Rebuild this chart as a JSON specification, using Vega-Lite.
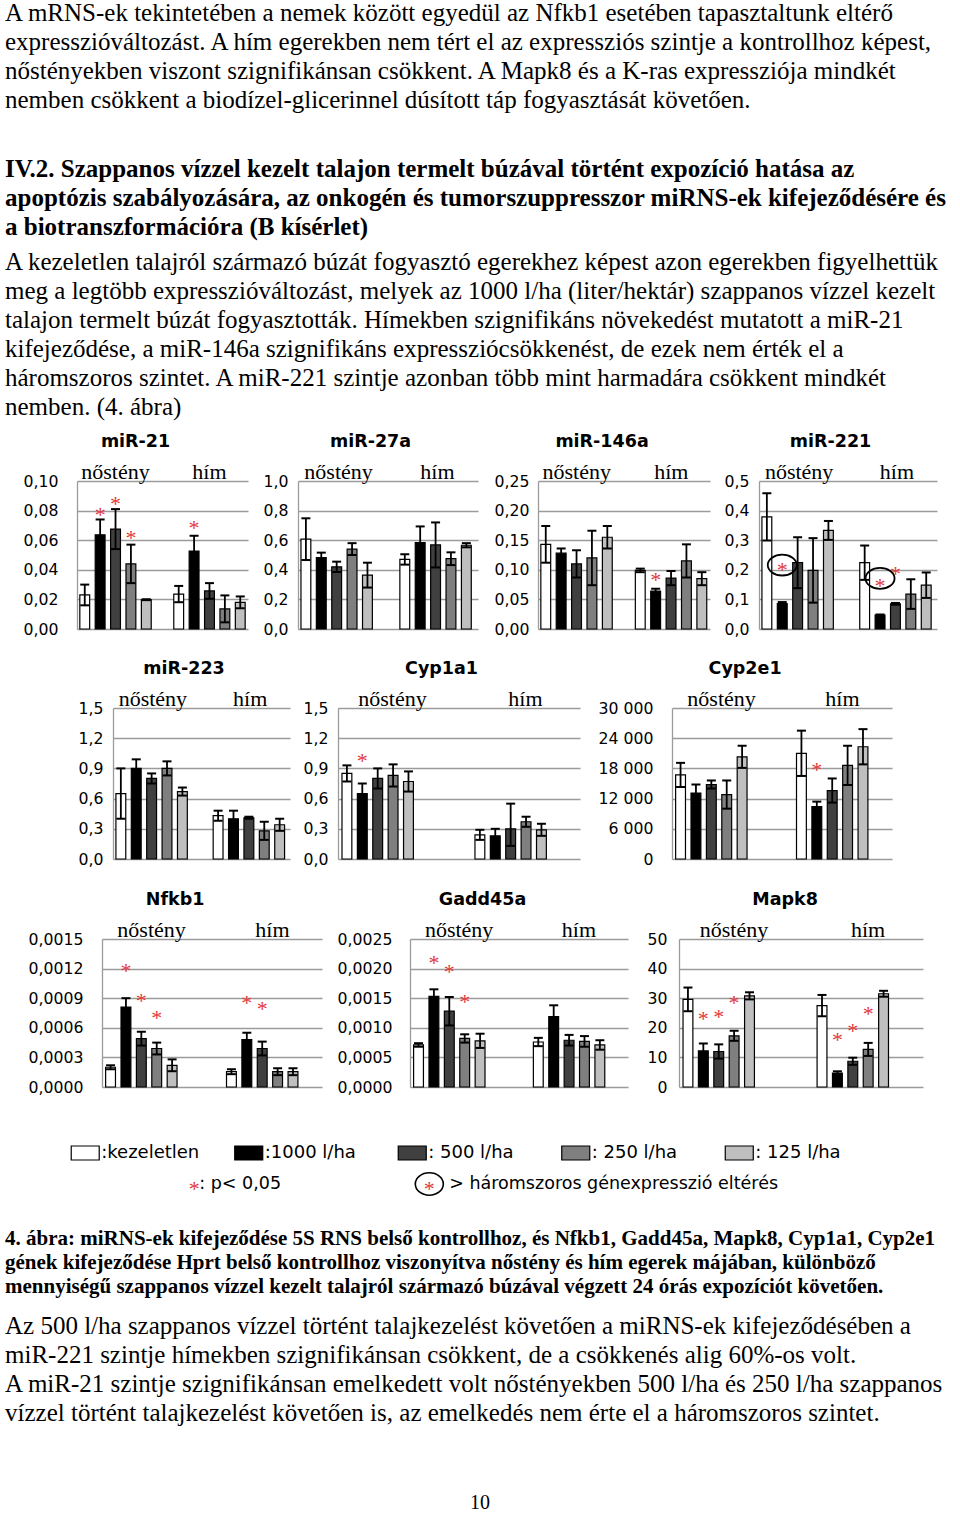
{
"$schema": "https://vega.github.io/schema/vega-lite/v6.json",
"padding": {"left": 5, "top": 1, "right": 5, "bottom": 0},
"spacing": 0,
"config": {
 "view": {"stroke": null},
 "locale": {"number": {"decimal": ",", "thousands": " ", "grouping": [3], "currency": ["", ""]}},
 "axisX": {"domain": false, "ticks": false, "grid": false, "labelFont": "Liberation Serif", "labelFontSize": 22, "labelColor": "black", "labelPadding": -2, "labelAngle": 0, "labelOverlap": false},
 "axisY": {"domain": true, "domainColor": "#9b9b9b", "domainWidth": 1.3, "grid": true, "gridColor": "#9b9b9b", "gridWidth": 1.3, "ticks": false, "labelFont": "DejaVu Sans", "labelFontSize": 15.7, "labelColor": "black", "labelOverlap": false, "tickCount": 20},
 "title": {"font": "DejaVu Sans", "fontSize": 17.5, "fontWeight": "bold", "color": "black", "baseline": "bottom", "offset": 10, "anchor": "middle", "frame": "bounds"}
},
"datasets": {
 "bars": [
  {"g":"miR-21","s":"nőstény","t":"kezeletlen","v":0.023,"lo":0.016,"hi":0.030},
  {"g":"miR-21","s":"nőstény","t":"1000 l/ha","v":0.0636,"lo":0.0532,"hi":0.074},
  {"g":"miR-21","s":"nőstény","t":"500 l/ha","v":0.0675,"lo":0.054,"hi":0.081},
  {"g":"miR-21","s":"nőstény","t":"250 l/ha","v":0.044,"lo":0.031,"hi":0.057},
  {"g":"miR-21","s":"nőstény","t":"125 l/ha","v":0.0198,"lo":0.0195,"hi":0.0201},
  {"g":"miR-21","s":"hím","t":"kezeletlen","v":0.0236,"lo":0.0181,"hi":0.0291},
  {"g":"miR-21","s":"hím","t":"1000 l/ha","v":0.0527,"lo":0.0424,"hi":0.063},
  {"g":"miR-21","s":"hím","t":"500 l/ha","v":0.0257,"lo":0.0204,"hi":0.031},
  {"g":"miR-21","s":"hím","t":"250 l/ha","v":0.0136,"lo":0.0045,"hi":0.0227},
  {"g":"miR-21","s":"hím","t":"125 l/ha","v":0.018,"lo":0.014,"hi":0.022},
  {"g":"miR-27a","s":"nőstény","t":"kezeletlen","v":0.607,"lo":0.466,"hi":0.748},
  {"g":"miR-27a","s":"nőstény","t":"1000 l/ha","v":0.482,"lo":0.448,"hi":0.516},
  {"g":"miR-27a","s":"nőstény","t":"500 l/ha","v":0.42,"lo":0.385,"hi":0.455},
  {"g":"miR-27a","s":"nőstény","t":"250 l/ha","v":0.54,"lo":0.50,"hi":0.58},
  {"g":"miR-27a","s":"nőstény","t":"125 l/ha","v":0.364,"lo":0.28,"hi":0.448},
  {"g":"miR-27a","s":"hím","t":"kezeletlen","v":0.47,"lo":0.435,"hi":0.505},
  {"g":"miR-27a","s":"hím","t":"1000 l/ha","v":0.584,"lo":0.475,"hi":0.693},
  {"g":"miR-27a","s":"hím","t":"500 l/ha","v":0.568,"lo":0.416,"hi":0.72},
  {"g":"miR-27a","s":"hím","t":"250 l/ha","v":0.475,"lo":0.432,"hi":0.518},
  {"g":"miR-27a","s":"hím","t":"125 l/ha","v":0.566,"lo":0.552,"hi":0.58},
  {"g":"miR-146a","s":"nőstény","t":"kezeletlen","v":0.143,"lo":0.112,"hi":0.174},
  {"g":"miR-146a","s":"nőstény","t":"1000 l/ha","v":0.128,"lo":0.120,"hi":0.136},
  {"g":"miR-146a","s":"nőstény","t":"500 l/ha","v":0.110,"lo":0.087,"hi":0.133},
  {"g":"miR-146a","s":"nőstény","t":"250 l/ha","v":0.120,"lo":0.074,"hi":0.166},
  {"g":"miR-146a","s":"nőstény","t":"125 l/ha","v":0.155,"lo":0.136,"hi":0.174},
  {"g":"miR-146a","s":"hím","t":"kezeletlen","v":0.099,"lo":0.096,"hi":0.102},
  {"g":"miR-146a","s":"hím","t":"1000 l/ha","v":0.064,"lo":0.060,"hi":0.068},
  {"g":"miR-146a","s":"hím","t":"500 l/ha","v":0.086,"lo":0.074,"hi":0.098},
  {"g":"miR-146a","s":"hím","t":"250 l/ha","v":0.115,"lo":0.087,"hi":0.143},
  {"g":"miR-146a","s":"hím","t":"125 l/ha","v":0.085,"lo":0.074,"hi":0.096},
  {"g":"miR-221","s":"nőstény","t":"kezeletlen","v":0.379,"lo":0.299,"hi":0.459},
  {"g":"miR-221","s":"nőstény","t":"1000 l/ha","v":0.086,"lo":0.081,"hi":0.091},
  {"g":"miR-221","s":"nőstény","t":"500 l/ha","v":0.224,"lo":0.138,"hi":0.310},
  {"g":"miR-221","s":"nőstény","t":"250 l/ha","v":0.198,"lo":0.089,"hi":0.307},
  {"g":"miR-221","s":"nőstény","t":"125 l/ha","v":0.333,"lo":0.301,"hi":0.365},
  {"g":"miR-221","s":"hím","t":"kezeletlen","v":0.224,"lo":0.166,"hi":0.282},
  {"g":"miR-221","s":"hím","t":"1000 l/ha","v":0.047,"lo":0.045,"hi":0.049},
  {"g":"miR-221","s":"hím","t":"500 l/ha","v":0.085,"lo":0.082,"hi":0.088},
  {"g":"miR-221","s":"hím","t":"250 l/ha","v":0.118,"lo":0.068,"hi":0.168},
  {"g":"miR-221","s":"hím","t":"125 l/ha","v":0.148,"lo":0.105,"hi":0.191},
  {"g":"miR-223","s":"nőstény","t":"kezeletlen","v":0.65,"lo":0.40,"hi":0.90},
  {"g":"miR-223","s":"nőstény","t":"1000 l/ha","v":0.90,"lo":0.81,"hi":0.99},
  {"g":"miR-223","s":"nőstény","t":"500 l/ha","v":0.80,"lo":0.75,"hi":0.85},
  {"g":"miR-223","s":"nőstény","t":"250 l/ha","v":0.90,"lo":0.83,"hi":0.97},
  {"g":"miR-223","s":"nőstény","t":"125 l/ha","v":0.67,"lo":0.63,"hi":0.71},
  {"g":"miR-223","s":"hím","t":"kezeletlen","v":0.43,"lo":0.38,"hi":0.48},
  {"g":"miR-223","s":"hím","t":"1000 l/ha","v":0.40,"lo":0.32,"hi":0.48},
  {"g":"miR-223","s":"hím","t":"500 l/ha","v":0.41,"lo":0.40,"hi":0.42},
  {"g":"miR-223","s":"hím","t":"250 l/ha","v":0.28,"lo":0.19,"hi":0.37},
  {"g":"miR-223","s":"hím","t":"125 l/ha","v":0.34,"lo":0.28,"hi":0.40},
  {"g":"Cyp1a1","s":"nőstény","t":"kezeletlen","v":0.85,"lo":0.77,"hi":0.93},
  {"g":"Cyp1a1","s":"nőstény","t":"1000 l/ha","v":0.65,"lo":0.55,"hi":0.75},
  {"g":"Cyp1a1","s":"nőstény","t":"500 l/ha","v":0.80,"lo":0.70,"hi":0.90},
  {"g":"Cyp1a1","s":"nőstény","t":"250 l/ha","v":0.83,"lo":0.72,"hi":0.94},
  {"g":"Cyp1a1","s":"nőstény","t":"125 l/ha","v":0.77,"lo":0.67,"hi":0.87},
  {"g":"Cyp1a1","s":"hím","t":"kezeletlen","v":0.24,"lo":0.19,"hi":0.29},
  {"g":"Cyp1a1","s":"hím","t":"1000 l/ha","v":0.23,"lo":0.16,"hi":0.30},
  {"g":"Cyp1a1","s":"hím","t":"500 l/ha","v":0.30,"lo":0.13,"hi":0.55},
  {"g":"Cyp1a1","s":"hím","t":"250 l/ha","v":0.37,"lo":0.32,"hi":0.42},
  {"g":"Cyp1a1","s":"hím","t":"125 l/ha","v":0.29,"lo":0.23,"hi":0.35},
  {"g":"Cyp2e1","s":"nőstény","t":"kezeletlen","v":16700,"lo":14300,"hi":19100},
  {"g":"Cyp2e1","s":"nőstény","t":"1000 l/ha","v":13100,"lo":11400,"hi":14800},
  {"g":"Cyp2e1","s":"nőstény","t":"500 l/ha","v":14800,"lo":14000,"hi":15600},
  {"g":"Cyp2e1","s":"nőstény","t":"250 l/ha","v":12800,"lo":10000,"hi":15600},
  {"g":"Cyp2e1","s":"nőstény","t":"125 l/ha","v":20300,"lo":18100,"hi":22500},
  {"g":"Cyp2e1","s":"hím","t":"kezeletlen","v":21000,"lo":16500,"hi":25500},
  {"g":"Cyp2e1","s":"hím","t":"1000 l/ha","v":10400,"lo":9400,"hi":11400},
  {"g":"Cyp2e1","s":"hím","t":"500 l/ha","v":13600,"lo":11200,"hi":16000},
  {"g":"Cyp2e1","s":"hím","t":"250 l/ha","v":18600,"lo":14700,"hi":22500},
  {"g":"Cyp2e1","s":"hím","t":"125 l/ha","v":22300,"lo":18800,"hi":25800},
  {"g":"Nfkb1","s":"nőstény","t":"kezeletlen","v":0.0002,"lo":0.00018,"hi":0.00022},
  {"g":"Nfkb1","s":"nőstény","t":"1000 l/ha","v":0.00081,"lo":0.00072,"hi":0.0009},
  {"g":"Nfkb1","s":"nőstény","t":"500 l/ha","v":0.00049,"lo":0.00042,"hi":0.00056},
  {"g":"Nfkb1","s":"nőstény","t":"250 l/ha","v":0.00039,"lo":0.00033,"hi":0.00045},
  {"g":"Nfkb1","s":"nőstény","t":"125 l/ha","v":0.00022,"lo":0.00016,"hi":0.00028},
  {"g":"Nfkb1","s":"hím","t":"kezeletlen","v":0.000155,"lo":0.00013,"hi":0.00018},
  {"g":"Nfkb1","s":"hím","t":"1000 l/ha","v":0.00048,"lo":0.00041,"hi":0.00055},
  {"g":"Nfkb1","s":"hím","t":"500 l/ha","v":0.00039,"lo":0.00032,"hi":0.00046},
  {"g":"Nfkb1","s":"hím","t":"250 l/ha","v":0.000155,"lo":0.00012,"hi":0.00019},
  {"g":"Nfkb1","s":"hím","t":"125 l/ha","v":0.000155,"lo":0.00012,"hi":0.00019},
  {"g":"Gadd45a","s":"nőstény","t":"kezeletlen","v":0.00071,"lo":0.00068,"hi":0.00074},
  {"g":"Gadd45a","s":"nőstény","t":"1000 l/ha","v":0.00153,"lo":0.00141,"hi":0.00165},
  {"g":"Gadd45a","s":"nőstény","t":"500 l/ha","v":0.00128,"lo":0.00104,"hi":0.00152},
  {"g":"Gadd45a","s":"nőstény","t":"250 l/ha","v":0.00082,"lo":0.00075,"hi":0.00089},
  {"g":"Gadd45a","s":"nőstény","t":"125 l/ha","v":0.00078,"lo":0.00066,"hi":0.0009},
  {"g":"Gadd45a","s":"hím","t":"kezeletlen","v":0.00076,"lo":0.00069,"hi":0.00083},
  {"g":"Gadd45a","s":"hím","t":"1000 l/ha","v":0.00119,"lo":0.001,"hi":0.00138},
  {"g":"Gadd45a","s":"hím","t":"500 l/ha","v":0.00079,"lo":0.0007,"hi":0.00088},
  {"g":"Gadd45a","s":"hím","t":"250 l/ha","v":0.00077,"lo":0.00068,"hi":0.00086},
  {"g":"Gadd45a","s":"hím","t":"125 l/ha","v":0.00071,"lo":0.00063,"hi":0.00079},
  {"g":"Mapk8","s":"nőstény","t":"kezeletlen","v":29.6,"lo":25.6,"hi":33.6},
  {"g":"Mapk8","s":"nőstény","t":"1000 l/ha","v":12.2,"lo":9.7,"hi":14.7},
  {"g":"Mapk8","s":"nőstény","t":"500 l/ha","v":12.0,"lo":9.6,"hi":14.4},
  {"g":"Mapk8","s":"nőstény","t":"250 l/ha","v":17.3,"lo":15.6,"hi":19.0},
  {"g":"Mapk8","s":"nőstény","t":"125 l/ha","v":30.8,"lo":29.6,"hi":32.0},
  {"g":"Mapk8","s":"hím","t":"kezeletlen","v":27.5,"lo":23.9,"hi":31.1},
  {"g":"Mapk8","s":"hím","t":"1000 l/ha","v":4.7,"lo":4.1,"hi":5.3},
  {"g":"Mapk8","s":"hím","t":"500 l/ha","v":8.7,"lo":7.5,"hi":9.9},
  {"g":"Mapk8","s":"hím","t":"250 l/ha","v":12.7,"lo":10.5,"hi":14.9},
  {"g":"Mapk8","s":"hím","t":"125 l/ha","v":31.5,"lo":30.5,"hi":32.5}
 ],
 "stars": [
  {"g":"miR-21","s":"nőstény","t":"1000 l/ha","y":0.0805},
  {"g":"miR-21","s":"nőstény","t":"500 l/ha","y":0.088},
  {"g":"miR-21","s":"nőstény","t":"250 l/ha","y":0.065},
  {"g":"miR-21","s":"hím","t":"1000 l/ha","y":0.072},
  {"g":"miR-146a","s":"hím","t":"1000 l/ha","y":0.092},
  {"g":"miR-221","s":"nőstény","t":"1000 l/ha","y":0.216},
  {"g":"miR-221","s":"hím","t":"1000 l/ha","y":0.164},
  {"g":"miR-221","s":"hím","t":"500 l/ha","y":0.205},
  {"g":"Cyp1a1","s":"nőstény","t":"1000 l/ha","y":1.03},
  {"g":"Cyp2e1","s":"hím","t":"1000 l/ha","y":18790},
  {"g":"Nfkb1","s":"nőstény","t":"1000 l/ha","y":0.001234},
  {"g":"Nfkb1","s":"nőstény","t":"500 l/ha","y":0.000924},
  {"g":"Nfkb1","s":"nőstény","t":"250 l/ha","y":0.000752},
  {"g":"Nfkb1","s":"hím","t":"1000 l/ha","y":0.000903},
  {"g":"Nfkb1","s":"hím","t":"500 l/ha","y":0.000845},
  {"g":"Gadd45a","s":"nőstény","t":"1000 l/ha","y":0.00218},
  {"g":"Gadd45a","s":"nőstény","t":"500 l/ha","y":0.00204},
  {"g":"Gadd45a","s":"nőstény","t":"250 l/ha","y":0.00153},
  {"g":"Mapk8","s":"nőstény","t":"1000 l/ha","y":24.9},
  {"g":"Mapk8","s":"nőstény","t":"500 l/ha","y":25.3},
  {"g":"Mapk8","s":"nőstény","t":"250 l/ha","y":30.3},
  {"g":"Mapk8","s":"hím","t":"1000 l/ha","y":17.8},
  {"g":"Mapk8","s":"hím","t":"500 l/ha","y":20.6},
  {"g":"Mapk8","s":"hím","t":"250 l/ha","y":26.4}
 ],
 "rings": [
  {"g":"miR-221","s":"nőstény","t":"1000 l/ha","y":0.216},
  {"g":"miR-221","s":"hím","t":"1000 l/ha","y":0.171}
 ],
 "leg": [
  {"t":"kezeletlen","lab":":kezeletlen"},
  {"t":"1000 l/ha","lab":":1000 l/ha"},
  {"t":"500 l/ha","lab":": 500 l/ha"},
  {"t":"250 l/ha","lab":": 250 l/ha"},
  {"t":"125 l/ha","lab":": 125 l/ha"}
 ]
},
"vconcat": [
 {"width": 950, "height": 144,
  "data": {"values": [
   {"i":1,"t":"A mRNS-ek tekintetében a nemek között egyedül az Nfkb1 esetében tapasztaltunk eltérő"},
   {"i":2,"t":"expresszióváltozást. A hím egerekben nem tért el az expressziós szintje a kontrollhoz képest,"},
   {"i":3,"t":"nőstényekben viszont szignifikánsan csökkent. A Mapk8 és a K-ras expressziója mindkét"},
   {"i":4,"t":"nemben csökkent a biodízel-glicerinnel dúsított táp fogyasztását követően."}]},
  "mark": {"type":"text","align":"left","baseline":"middle","font":"Liberation Serif","fontSize":25,"color":"black"},
  "encoding": {"x": {"datum":0,"type":"quantitative","scale":{"domain":[0,1]},"axis":null},
   "y": {"field":"i","type":"ordinal","scale":{"type":"point","padding":0.983,"align":0},"axis":null},
   "text": {"field":"t"}}},
 {"width": 950, "height": 80.5,
  "data": {"values": [
   {"i":1,"t":"IV.2. Szappanos vízzel kezelt talajon termelt búzával történt expozíció hatása az"},
   {"i":2,"t":"apoptózis szabályozására, az onkogén és tumorszuppresszor miRNS-ek kifejeződésére és"},
   {"i":3,"t":"a biotranszformációra (B kísérlet)"}]},
  "mark": {"type":"text","align":"left","baseline":"middle","font":"Liberation Serif","fontSize":25,"fontWeight":"bold","color":"black"},
  "encoding": {"x": {"datum":0,"type":"quantitative","scale":{"domain":[0,1]},"axis":null},
   "y": {"field":"i","type":"ordinal","scale":{"type":"point","padding":0.388,"align":0},"axis":null},
   "text": {"field":"t"}}},
 {"width": 950, "height": 170,
  "data": {"values": [
   {"i":1,"t":"A kezeletlen talajról származó búzát fogyasztó egerekhez képest azon egerekben figyelhettük"},
   {"i":2,"t":"meg a legtöbb expresszióváltozást, melyek az 1000 l/ha (liter/hektár) szappanos vízzel kezelt"},
   {"i":3,"t":"talajon termelt búzát fogyasztották. Hímekben szignifikáns növekedést mutatott a miR-21"},
   {"i":4,"t":"kifejeződése, a miR-146a szignifikáns expressziócsökkenést, de ezek nem érték el a"},
   {"i":5,"t":"háromszoros szintet. A miR-221 szintje azonban több mint harmadára csökkent mindkét"},
   {"i":6,"t":"nemben. (4. ábra)"}]},
  "mark": {"type":"text","align":"left","baseline":"middle","font":"Liberation Serif","fontSize":25,"color":"black"},
  "encoding": {"x": {"datum":0,"type":"quantitative","scale":{"domain":[0,1]},"axis":null},
   "y": {"field":"i","type":"ordinal","scale":{"type":"point","padding":0.431,"align":0},"axis":null},
   "text": {"field":"t"}}},
 {"hconcat": [
   {"width": 72, "height": 178, "data": {"values": []}, "mark": "point"},
   {"width": 171, "height": 148, "title": "miR-21", "data": {"name":"bars"}, "transform": [{"filter": {"field":"g","equal":"miR-21"}}],
    "encoding": {"x": {"field":"s","type":"nominal","sort":["nőstény","hím"],"scale":{"paddingInner":0.24,"paddingOuter":0.03},"axis":{"orient":"top","title":null}},
     "xOffset": {"field":"t","type":"nominal","sort":["kezeletlen","1000 l/ha","500 l/ha","250 l/ha","125 l/ha"],"scale":{"paddingInner":0.36,"paddingOuter":0}}},
    "layer": [
     {"mark": {"type":"bar","stroke":"black","strokeWidth":1.2}, "encoding": {"y": {"field":"v","type":"quantitative","scale":{"domain":[0,0.1],"nice":false},"axis":{"title":null,"values":[0,0.02,0.04,0.06,0.08,0.1],"tickCount":20,"format":".2f","labelPadding":19}}, "fill": {"field":"t","type":"nominal","scale":{"domain":["kezeletlen","1000 l/ha","500 l/ha","250 l/ha","125 l/ha"],"range":["#ffffff","#000000","#404040","#7f7f7f","#bfbfbf"]},"legend":null}}},
     {"mark": {"type":"rule","color":"black","strokeWidth":1.8}, "encoding": {"y": {"field":"lo","type":"quantitative"}, "y2": {"field":"hi"}}},
     {"mark": {"type":"tick","color":"black","size":9,"thickness":2,"opacity":1}, "encoding": {"y": {"field":"lo","type":"quantitative"}}},
     {"mark": {"type":"tick","color":"black","size":9,"thickness":2,"opacity":1}, "encoding": {"y": {"field":"hi","type":"quantitative"}}},
     {"data": {"name":"stars"}, "transform": [{"filter": {"field":"g","equal":"miR-21"}}], "mark": {"type":"text","text":"*","font":"Liberation Serif","fontSize":22,"color":"#e2383a","baseline":"middle","dy":5.3}, "encoding": {"y": {"field":"y","type":"quantitative"}}}
    ]},
   {"width": 50, "height": 10, "data": {"values": []}, "mark": "point"},
   {"width": 180, "height": 148, "title": "miR-27a", "data": {"name":"bars"}, "transform": [{"filter": {"field":"g","equal":"miR-27a"}}],
    "encoding": {"x": {"field":"s","type":"nominal","sort":["nőstény","hím"],"scale":{"paddingInner":0.24,"paddingOuter":0.03},"axis":{"orient":"top","title":null}},
     "xOffset": {"field":"t","type":"nominal","sort":["kezeletlen","1000 l/ha","500 l/ha","250 l/ha","125 l/ha"],"scale":{"paddingInner":0.36,"paddingOuter":0}}},
    "layer": [
     {"mark": {"type":"bar","stroke":"black","strokeWidth":1.2}, "encoding": {"y": {"field":"v","type":"quantitative","scale":{"domain":[0,1],"nice":false},"axis":{"title":null,"values":[0,0.2,0.4,0.6,0.8,1],"tickCount":20,"format":".1f","labelPadding":10}}, "fill": {"field":"t","type":"nominal","scale":{"domain":["kezeletlen","1000 l/ha","500 l/ha","250 l/ha","125 l/ha"],"range":["#ffffff","#000000","#404040","#7f7f7f","#bfbfbf"]},"legend":null}}},
     {"mark": {"type":"rule","color":"black","strokeWidth":1.8}, "encoding": {"y": {"field":"lo","type":"quantitative"}, "y2": {"field":"hi"}}},
     {"mark": {"type":"tick","color":"black","size":9,"thickness":2,"opacity":1}, "encoding": {"y": {"field":"lo","type":"quantitative"}}},
     {"mark": {"type":"tick","color":"black","size":9,"thickness":2,"opacity":1}, "encoding": {"y": {"field":"hi","type":"quantitative"}}}
    ]},
   {"width": 60, "height": 10, "data": {"values": []}, "mark": "point"},
   {"width": 172, "height": 148, "title": "miR-146a", "data": {"name":"bars"}, "transform": [{"filter": {"field":"g","equal":"miR-146a"}}],
    "encoding": {"x": {"field":"s","type":"nominal","sort":["nőstény","hím"],"scale":{"paddingInner":0.24,"paddingOuter":0.03},"axis":{"orient":"top","title":null}},
     "xOffset": {"field":"t","type":"nominal","sort":["kezeletlen","1000 l/ha","500 l/ha","250 l/ha","125 l/ha"],"scale":{"paddingInner":0.36,"paddingOuter":0}}},
    "layer": [
     {"mark": {"type":"bar","stroke":"black","strokeWidth":1.2}, "encoding": {"y": {"field":"v","type":"quantitative","scale":{"domain":[0,0.25],"nice":false},"axis":{"title":null,"values":[0,0.05,0.1,0.15,0.2,0.25],"tickCount":20,"format":".2f","labelPadding":9}}, "fill": {"field":"t","type":"nominal","scale":{"domain":["kezeletlen","1000 l/ha","500 l/ha","250 l/ha","125 l/ha"],"range":["#ffffff","#000000","#404040","#7f7f7f","#bfbfbf"]},"legend":null}}},
     {"mark": {"type":"rule","color":"black","strokeWidth":1.8}, "encoding": {"y": {"field":"lo","type":"quantitative"}, "y2": {"field":"hi"}}},
     {"mark": {"type":"tick","color":"black","size":9,"thickness":2,"opacity":1}, "encoding": {"y": {"field":"lo","type":"quantitative"}}},
     {"mark": {"type":"tick","color":"black","size":9,"thickness":2,"opacity":1}, "encoding": {"y": {"field":"hi","type":"quantitative"}}},
     {"data": {"name":"stars"}, "transform": [{"filter": {"field":"g","equal":"miR-146a"}}], "mark": {"type":"text","text":"*","font":"Liberation Serif","fontSize":22,"color":"#e2383a","baseline":"middle","dy":5.3}, "encoding": {"y": {"field":"y","type":"quantitative"}}}
    ]},
   {"width": 49, "height": 10, "data": {"values": []}, "mark": "point"},
   {"width": 178, "height": 148, "title": "miR-221", "data": {"name":"bars"}, "transform": [{"filter": {"field":"g","equal":"miR-221"}}],
    "encoding": {"x": {"field":"s","type":"nominal","sort":["nőstény","hím"],"scale":{"paddingInner":0.24,"paddingOuter":0.03},"axis":{"orient":"top","title":null}},
     "xOffset": {"field":"t","type":"nominal","sort":["kezeletlen","1000 l/ha","500 l/ha","250 l/ha","125 l/ha"],"scale":{"paddingInner":0.36,"paddingOuter":0}}},
    "layer": [
     {"mark": {"type":"bar","stroke":"black","strokeWidth":1.2}, "encoding": {"y": {"field":"v","type":"quantitative","scale":{"domain":[0,0.5],"nice":false},"axis":{"title":null,"values":[0,0.1,0.2,0.3,0.4,0.5],"tickCount":20,"format":".1f","labelPadding":10}}, "fill": {"field":"t","type":"nominal","scale":{"domain":["kezeletlen","1000 l/ha","500 l/ha","250 l/ha","125 l/ha"],"range":["#ffffff","#000000","#404040","#7f7f7f","#bfbfbf"]},"legend":null}}},
     {"mark": {"type":"rule","color":"black","strokeWidth":1.8}, "encoding": {"y": {"field":"lo","type":"quantitative"}, "y2": {"field":"hi"}}},
     {"mark": {"type":"tick","color":"black","size":9,"thickness":2,"opacity":1}, "encoding": {"y": {"field":"lo","type":"quantitative"}}},
     {"mark": {"type":"tick","color":"black","size":9,"thickness":2,"opacity":1}, "encoding": {"y": {"field":"hi","type":"quantitative"}}},
     {"data": {"name":"stars"}, "transform": [{"filter": {"field":"g","equal":"miR-221"}}], "mark": {"type":"text","text":"*","font":"Liberation Serif","fontSize":22,"color":"#e2383a","baseline":"middle","dy":5.3}, "encoding": {"y": {"field":"y","type":"quantitative"}}},
     {"data": {"name":"rings"}, "transform": [{"filter": {"field":"g","equal":"miR-221"}}], "mark": {"type":"point","shape":"M-1,0A1,0.72,0,1,1,1,0A1,0.72,0,1,1,-1,0Z","size":841,"filled":false,"color":"black","strokeWidth":1.8,"opacity":1}, "encoding": {"y": {"field":"y","type":"quantitative"}}}
    ]}
  ], "spacing": 0, "bounds": "flush"},
 {"hconcat": [
   {"width": 108, "height": 182, "data": {"values": []}, "mark": "point"},
   {"width": 177, "height": 151, "title": "miR-223", "data": {"name":"bars"}, "transform": [{"filter": {"field":"g","equal":"miR-223"}}],
    "encoding": {"x": {"field":"s","type":"nominal","sort":["nőstény","hím"],"scale":{"paddingInner":0.24,"paddingOuter":0.03},"axis":{"orient":"top","title":null}},
     "xOffset": {"field":"t","type":"nominal","sort":["kezeletlen","1000 l/ha","500 l/ha","250 l/ha","125 l/ha"],"scale":{"paddingInner":0.36,"paddingOuter":0}}},
    "layer": [
     {"mark": {"type":"bar","stroke":"black","strokeWidth":1.2}, "encoding": {"y": {"field":"v","type":"quantitative","scale":{"domain":[0,1.5],"nice":false},"axis":{"title":null,"values":[0,0.3,0.6,0.9,1.2,1.5],"tickCount":20,"format":".1f","labelPadding":10}}, "fill": {"field":"t","type":"nominal","scale":{"domain":["kezeletlen","1000 l/ha","500 l/ha","250 l/ha","125 l/ha"],"range":["#ffffff","#000000","#404040","#7f7f7f","#bfbfbf"]},"legend":null}}},
     {"mark": {"type":"rule","color":"black","strokeWidth":1.8}, "encoding": {"y": {"field":"lo","type":"quantitative"}, "y2": {"field":"hi"}}},
     {"mark": {"type":"tick","color":"black","size":9,"thickness":2,"opacity":1}, "encoding": {"y": {"field":"lo","type":"quantitative"}}},
     {"mark": {"type":"tick","color":"black","size":9,"thickness":2,"opacity":1}, "encoding": {"y": {"field":"hi","type":"quantitative"}}}
    ]},
   {"width": 48, "height": 10, "data": {"values": []}, "mark": "point"},
   {"width": 242, "height": 151, "title": "Cyp1a1", "data": {"name":"bars"}, "transform": [{"filter": {"field":"g","equal":"Cyp1a1"}}],
    "encoding": {"x": {"field":"s","type":"nominal","sort":["nőstény","hím"],"scale":{"paddingInner":0.24,"paddingOuter":0.03},"axis":{"orient":"top","title":null}},
     "xOffset": {"field":"t","type":"nominal","sort":["kezeletlen","1000 l/ha","500 l/ha","250 l/ha","125 l/ha"],"scale":{"paddingInner":0.36,"paddingOuter":0}}},
    "layer": [
     {"mark": {"type":"bar","stroke":"black","strokeWidth":1.2}, "encoding": {"y": {"field":"v","type":"quantitative","scale":{"domain":[0,1.5],"nice":false},"axis":{"title":null,"values":[0,0.3,0.6,0.9,1.2,1.5],"tickCount":20,"format":".1f","labelPadding":10}}, "fill": {"field":"t","type":"nominal","scale":{"domain":["kezeletlen","1000 l/ha","500 l/ha","250 l/ha","125 l/ha"],"range":["#ffffff","#000000","#404040","#7f7f7f","#bfbfbf"]},"legend":null}}},
     {"mark": {"type":"rule","color":"black","strokeWidth":1.8}, "encoding": {"y": {"field":"lo","type":"quantitative"}, "y2": {"field":"hi"}}},
     {"mark": {"type":"tick","color":"black","size":9,"thickness":2,"opacity":1}, "encoding": {"y": {"field":"lo","type":"quantitative"}}},
     {"mark": {"type":"tick","color":"black","size":9,"thickness":2,"opacity":1}, "encoding": {"y": {"field":"hi","type":"quantitative"}}},
     {"data": {"name":"stars"}, "transform": [{"filter": {"field":"g","equal":"Cyp1a1"}}], "mark": {"type":"text","text":"*","font":"Liberation Serif","fontSize":22,"color":"#e2383a","baseline":"middle","dy":5.3}, "encoding": {"y": {"field":"y","type":"quantitative"}}}
    ]},
   {"width": 92, "height": 10, "data": {"values": []}, "mark": "point"},
   {"width": 220, "height": 151, "title": "Cyp2e1", "data": {"name":"bars"}, "transform": [{"filter": {"field":"g","equal":"Cyp2e1"}}],
    "encoding": {"x": {"field":"s","type":"nominal","sort":["nőstény","hím"],"scale":{"paddingInner":0.24,"paddingOuter":0.03},"axis":{"orient":"top","title":null}},
     "xOffset": {"field":"t","type":"nominal","sort":["kezeletlen","1000 l/ha","500 l/ha","250 l/ha","125 l/ha"],"scale":{"paddingInner":0.36,"paddingOuter":0}}},
    "layer": [
     {"mark": {"type":"bar","stroke":"black","strokeWidth":1.2}, "encoding": {"y": {"field":"v","type":"quantitative","scale":{"domain":[0,30000],"nice":false},"axis":{"title":null,"values":[0,6000,12000,18000,24000,30000],"tickCount":20,"format":",.0f","labelPadding":19}}, "fill": {"field":"t","type":"nominal","scale":{"domain":["kezeletlen","1000 l/ha","500 l/ha","250 l/ha","125 l/ha"],"range":["#ffffff","#000000","#404040","#7f7f7f","#bfbfbf"]},"legend":null}}},
     {"mark": {"type":"rule","color":"black","strokeWidth":1.8}, "encoding": {"y": {"field":"lo","type":"quantitative"}, "y2": {"field":"hi"}}},
     {"mark": {"type":"tick","color":"black","size":9,"thickness":2,"opacity":1}, "encoding": {"y": {"field":"lo","type":"quantitative"}}},
     {"mark": {"type":"tick","color":"black","size":9,"thickness":2,"opacity":1}, "encoding": {"y": {"field":"hi","type":"quantitative"}}},
     {"data": {"name":"stars"}, "transform": [{"filter": {"field":"g","equal":"Cyp2e1"}}], "mark": {"type":"text","text":"*","font":"Liberation Serif","fontSize":22,"color":"#e2383a","baseline":"middle","dy":5.3}, "encoding": {"y": {"field":"y","type":"quantitative"}}}
    ]}
  ], "spacing": 0, "bounds": "flush"},
 {"hconcat": [
   {"width": 97, "height": 204, "data": {"values": []}, "mark": "point"},
   {"width": 220, "height": 148, "title": "Nfkb1", "data": {"name":"bars"}, "transform": [{"filter": {"field":"g","equal":"Nfkb1"}}],
    "encoding": {"x": {"field":"s","type":"nominal","sort":["nőstény","hím"],"scale":{"paddingInner":0.24,"paddingOuter":0.03},"axis":{"orient":"top","title":null}},
     "xOffset": {"field":"t","type":"nominal","sort":["kezeletlen","1000 l/ha","500 l/ha","250 l/ha","125 l/ha"],"scale":{"paddingInner":0.36,"paddingOuter":0}}},
    "layer": [
     {"mark": {"type":"bar","stroke":"black","strokeWidth":1.2}, "encoding": {"y": {"field":"v","type":"quantitative","scale":{"domain":[0,0.0015],"nice":false},"axis":{"title":null,"values":[0,0.0003,0.0006,0.0009,0.0012,0.0015],"tickCount":20,"format":".4f","labelPadding":19}}, "fill": {"field":"t","type":"nominal","scale":{"domain":["kezeletlen","1000 l/ha","500 l/ha","250 l/ha","125 l/ha"],"range":["#ffffff","#000000","#404040","#7f7f7f","#bfbfbf"]},"legend":null}}},
     {"mark": {"type":"rule","color":"black","strokeWidth":1.8}, "encoding": {"y": {"field":"lo","type":"quantitative"}, "y2": {"field":"hi"}}},
     {"mark": {"type":"tick","color":"black","size":9,"thickness":2,"opacity":1}, "encoding": {"y": {"field":"lo","type":"quantitative"}}},
     {"mark": {"type":"tick","color":"black","size":9,"thickness":2,"opacity":1}, "encoding": {"y": {"field":"hi","type":"quantitative"}}},
     {"data": {"name":"stars"}, "transform": [{"filter": {"field":"g","equal":"Nfkb1"}}], "mark": {"type":"text","text":"*","font":"Liberation Serif","fontSize":22,"color":"#e2383a","baseline":"middle","dy":5.3}, "encoding": {"y": {"field":"y","type":"quantitative"}}}
    ]},
   {"width": 88, "height": 10, "data": {"values": []}, "mark": "point"},
   {"width": 218, "height": 148, "title": "Gadd45a", "data": {"name":"bars"}, "transform": [{"filter": {"field":"g","equal":"Gadd45a"}}],
    "encoding": {"x": {"field":"s","type":"nominal","sort":["nőstény","hím"],"scale":{"paddingInner":0.24,"paddingOuter":0.03},"axis":{"orient":"top","title":null}},
     "xOffset": {"field":"t","type":"nominal","sort":["kezeletlen","1000 l/ha","500 l/ha","250 l/ha","125 l/ha"],"scale":{"paddingInner":0.36,"paddingOuter":0}}},
    "layer": [
     {"mark": {"type":"bar","stroke":"black","strokeWidth":1.2}, "encoding": {"y": {"field":"v","type":"quantitative","scale":{"domain":[0,0.0025],"nice":false},"axis":{"title":null,"values":[0,0.0005,0.001,0.0015,0.002,0.0025],"tickCount":20,"format":".4f","labelPadding":18}}, "fill": {"field":"t","type":"nominal","scale":{"domain":["kezeletlen","1000 l/ha","500 l/ha","250 l/ha","125 l/ha"],"range":["#ffffff","#000000","#404040","#7f7f7f","#bfbfbf"]},"legend":null}}},
     {"mark": {"type":"rule","color":"black","strokeWidth":1.8}, "encoding": {"y": {"field":"lo","type":"quantitative"}, "y2": {"field":"hi"}}},
     {"mark": {"type":"tick","color":"black","size":9,"thickness":2,"opacity":1}, "encoding": {"y": {"field":"lo","type":"quantitative"}}},
     {"mark": {"type":"tick","color":"black","size":9,"thickness":2,"opacity":1}, "encoding": {"y": {"field":"hi","type":"quantitative"}}},
     {"data": {"name":"stars"}, "transform": [{"filter": {"field":"g","equal":"Gadd45a"}}], "mark": {"type":"text","text":"*","font":"Liberation Serif","fontSize":22,"color":"#e2383a","baseline":"middle","dy":5.3}, "encoding": {"y": {"field":"y","type":"quantitative"}}}
    ]},
   {"width": 51, "height": 10, "data": {"values": []}, "mark": "point"},
   {"width": 244, "height": 148, "title": "Mapk8", "data": {"name":"bars"}, "transform": [{"filter": {"field":"g","equal":"Mapk8"}}],
    "encoding": {"x": {"field":"s","type":"nominal","sort":["nőstény","hím"],"scale":{"paddingInner":0.24,"paddingOuter":0.03},"axis":{"orient":"top","title":null}},
     "xOffset": {"field":"t","type":"nominal","sort":["kezeletlen","1000 l/ha","500 l/ha","250 l/ha","125 l/ha"],"scale":{"paddingInner":0.36,"paddingOuter":0}}},
    "layer": [
     {"mark": {"type":"bar","stroke":"black","strokeWidth":1.2}, "encoding": {"y": {"field":"v","type":"quantitative","scale":{"domain":[0,50],"nice":false},"axis":{"title":null,"values":[0,10,20,30,40,50],"tickCount":20,"format":".0f","labelPadding":12}}, "fill": {"field":"t","type":"nominal","scale":{"domain":["kezeletlen","1000 l/ha","500 l/ha","250 l/ha","125 l/ha"],"range":["#ffffff","#000000","#404040","#7f7f7f","#bfbfbf"]},"legend":null}}},
     {"mark": {"type":"rule","color":"black","strokeWidth":1.8}, "encoding": {"y": {"field":"lo","type":"quantitative"}, "y2": {"field":"hi"}}},
     {"mark": {"type":"tick","color":"black","size":9,"thickness":2,"opacity":1}, "encoding": {"y": {"field":"lo","type":"quantitative"}}},
     {"mark": {"type":"tick","color":"black","size":9,"thickness":2,"opacity":1}, "encoding": {"y": {"field":"hi","type":"quantitative"}}},
     {"data": {"name":"stars"}, "transform": [{"filter": {"field":"g","equal":"Mapk8"}}], "mark": {"type":"text","text":"*","font":"Liberation Serif","fontSize":22,"color":"#e2383a","baseline":"middle","dy":5.3}, "encoding": {"y": {"field":"y","type":"quantitative"}}}
    ]}
  ], "spacing": 0, "bounds": "flush"},
 {"width": 950, "height": 74.5,
  "layer": [
   {"data": {"name":"leg"}, "mark": {"type":"point","shape":"M0,-0.5L2,-0.5L2,0.5L0,0.5Z","size":784,"filled":true,"stroke":"black","strokeWidth":1.2,"opacity":1},
    "encoding": {"x": {"field":"t","type":"nominal","sort":["kezeletlen","1000 l/ha","500 l/ha","250 l/ha","125 l/ha"],"scale":{"type":"band","paddingInner":0,"paddingOuter":0.405},"axis":null,"bandPosition":0},
     "y": {"datum":1,"type":"ordinal","scale":{"type":"point","domain":[1,2],"padding":0.702,"align":0},"axis":null},
     "fill": {"field":"t","type":"nominal","scale":{"domain":["kezeletlen","1000 l/ha","500 l/ha","250 l/ha","125 l/ha"],"range":["#ffffff","#000000","#404040","#7f7f7f","#bfbfbf"]},"legend":null}}},
   {"data": {"name":"leg"}, "mark": {"type":"text","align":"left","baseline":"middle","dx":30,"font":"DejaVu Sans","fontSize":18,"color":"black"},
    "encoding": {"x": {"field":"t","type":"nominal","sort":["kezeletlen","1000 l/ha","500 l/ha","250 l/ha","125 l/ha"],"bandPosition":0},
     "y": {"datum":1,"type":"ordinal"}, "text": {"field":"lab"}}},
   {"data": {"values": [{"k":"*"}]}, "mark": {"type":"text","align":"center","baseline":"middle","dy":5.3,"font":"Liberation Serif","fontSize":22,"color":"#e2383a"},
    "encoding": {"x": {"datum":"kezeletlen","type":"nominal","bandPosition":0.752}, "y": {"datum":2,"type":"ordinal"}, "text": {"field":"k"}}},
   {"data": {"values": [{"k":": p< 0,05"}]}, "mark": {"type":"text","align":"left","baseline":"middle","font":"DejaVu Sans","fontSize":17.5,"color":"black"},
    "encoding": {"x": {"datum":"kezeletlen","type":"nominal","bandPosition":0.783}, "y": {"datum":2,"type":"ordinal"}, "text": {"field":"k"}}},
   {"data": {"values": [{"k":"o"}]}, "mark": {"type":"point","shape":"M-1,0A1,0.8,0,1,1,1,0A1,0.8,0,1,1,-1,0Z","size":784,"filled":false,"color":"black","strokeWidth":1.6,"opacity":1},
    "encoding": {"x": {"datum":"500 l/ha","type":"nominal","bandPosition":0.19}, "y": {"datum":2,"type":"ordinal"}}},
   {"data": {"values": [{"k":"*"}]}, "mark": {"type":"text","align":"center","baseline":"middle","dy":5.3,"font":"Liberation Serif","fontSize":22,"color":"#e2383a"},
    "encoding": {"x": {"datum":"500 l/ha","type":"nominal","bandPosition":0.19}, "y": {"datum":2,"type":"ordinal"}, "text": {"field":"k"}}},
   {"data": {"values": [{"k":"> háromszoros génexpresszió eltérés"}]}, "mark": {"type":"text","align":"left","baseline":"middle","font":"DejaVu Sans","fontSize":17.5,"color":"black"},
    "encoding": {"x": {"datum":"500 l/ha","type":"nominal","bandPosition":0.312}, "y": {"datum":2,"type":"ordinal"}, "text": {"field":"k"}}}
  ]},
 {"width": 950, "height": 74.5,
  "data": {"values": [
   {"i":1,"t":"4. ábra: miRNS-ek kifejeződése 5S RNS belső kontrollhoz, és Nfkb1, Gadd45a, Mapk8, Cyp1a1, Cyp2e1"},
   {"i":2,"t":"gének kifejeződése Hprt belső kontrollhoz viszonyítva nőstény és hím egerek májában, különböző"},
   {"i":3,"t":"mennyiségű szappanos vízzel kezelt talajról származó búzával végzett 24 órás expozíciót követően."}]},
  "mark": {"type":"text","align":"left","baseline":"middle","font":"Liberation Serif","fontSize":21,"fontWeight":"bold","color":"black"},
  "encoding": {"x": {"datum":0,"type":"quantitative","scale":{"domain":[0,1]},"axis":null},
   "y": {"field":"i","type":"ordinal","scale":{"type":"point","padding":0.552,"align":0},"axis":null},
   "text": {"field":"t"}}},
 {"width": 950, "height": 145,
  "data": {"values": [
   {"i":1,"t":"Az 500 l/ha szappanos vízzel történt talajkezelést követően a miRNS-ek kifejeződésében a"},
   {"i":2,"t":"miR-221 szintje hímekben szignifikánsan csökkent, de a csökkenés alig 60%-os volt."},
   {"i":3,"t":"A miR-21 szintje szignifikánsan emelkedett volt nőstényekben 500 l/ha és 250 l/ha szappanos"},
   {"i":4,"t":"vízzel történt talajkezelést követően is, az emelkedés nem érte el a háromszoros szintet."}]},
  "mark": {"type":"text","align":"left","baseline":"middle","font":"Liberation Serif","fontSize":25,"color":"black"},
  "encoding": {"x": {"datum":0,"type":"quantitative","scale":{"domain":[0,1]},"axis":null},
   "y": {"field":"i","type":"ordinal","scale":{"type":"point","padding":1.0,"align":0},"axis":null},
   "text": {"field":"t"}}},
 {"width": 950, "height": 64,
  "data": {"values": [{"t":"10"}]},
  "mark": {"type":"text","align":"center","baseline":"middle","font":"Liberation Serif","fontSize":20,"color":"black"},
  "encoding": {"x": {"datum":0.5,"type":"quantitative","scale":{"domain":[0,1]},"axis":null},
   "y": {"datum":0,"type":"quantitative","scale":{"domain":[-1,1]},"axis":null},
   "text": {"field":"t"}}}
]
}
